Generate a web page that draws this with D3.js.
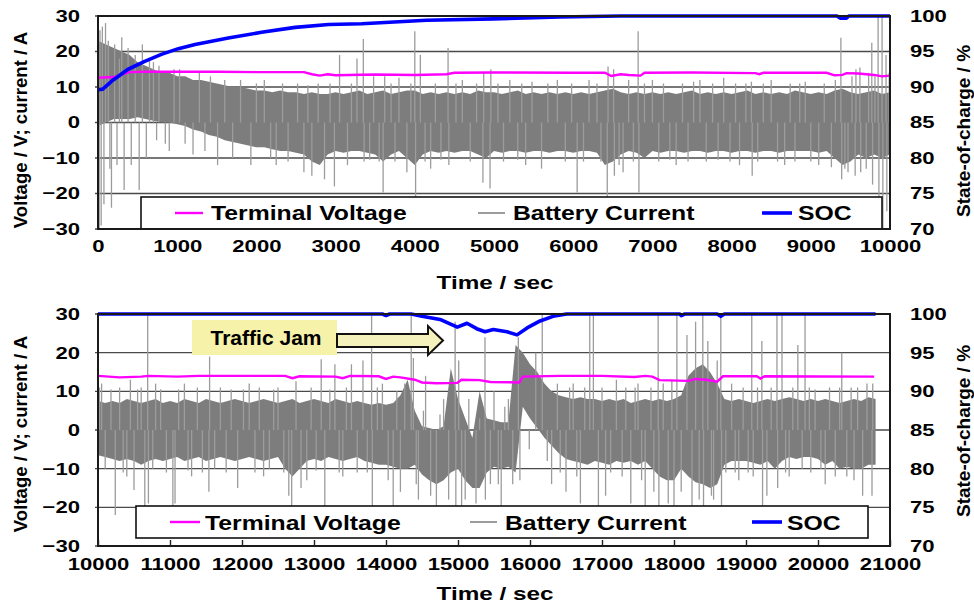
<!DOCTYPE html>
<html>
<head>
<meta charset="utf-8">
<script src="https://cdn.jsdelivr.net/npm/d3@7"></script>
<style>
  body { margin: 0; background: #fff; }
  svg { display: block; font-family: "Liberation Sans", Arial, sans-serif; font-weight: bold; }
</style>
</head>
<body>
<svg id="chart" width="974" height="607"></svg>
<script>
// ---- data ----
const Y_TICKS = [-30, -20, -10, 0, 10, 20, 30];
const SOC_TICKS = [70, 75, 80, 85, 90, 95, 100];
const TOP_X_TICKS = [0, 1000, 2000, 3000, 4000, 5000, 6000, 7000, 8000, 9000, 10000];
const BOT_X_TICKS = [10000, 11000, 12000, 13000, 14000, 15000, 16000, 17000, 18000, 19000, 20000, 21000];
const LEGEND_LABELS = ["Terminal Voltage", "Battery Current", "SOC"];
const BIN = 100; // seconds per envelope bin

// battery current, dense band: upper / lower envelope per 100 s bin (top panel 0..10000 s)
const TOP_HI = [
  23,22,21,20,19,17,16,15,14,14,
  13,13,12,12,11.5,11,10.5,10,10,9.5,
  9,9,8.5,9,8.5,8.5,8,8.5,8,8,
  8.5,8,8.5,9,8,8.5,9,8,8.5,9,
  9,8,8.5,8,8.5,8,8.5,8,9,8.5,
  8.5,8,8.5,9,8,8.5,8,8.5,8,8.5,
  8,8.5,8,8.5,9,9.5,8.5,8,8.5,8,
  8.5,8,8.5,8,8.5,9,8,8.5,8,8.5,
  8,8.5,9,8,8.5,8,8.5,8,9,8.5,
  8,8.5,8,9,9.5,8.5,8,8.5,9,8,8.5];
const TOP_LO = [
  -1,0,1,1,1,1.5,1,0.5,0,0,
  -0.5,-1,-2,-2.5,-3.5,-4,-5,-5.5,-6,-6.5,
  -7,-7,-7.5,-8,-8,-8.5,-9,-11,-12,-9,
  -8,-8.5,-8,-8,-8.5,-9,-11,-9,-8,-10,
  -12,-9,-8,-8.5,-8,-8.5,-8,-8,-9,-10,
  -8,-8.5,-8,-8,-8.5,-8,-8,-8.5,-8,-8,
  -8.5,-8,-8,-8.5,-12,-11,-9,-8,-8.5,-10,
  -8,-8.5,-8,-8,-8.5,-8,-8,-8.5,-8,-8,
  -8.5,-8,-8,-8.5,-8,-8,-8.5,-8,-8,-8,
  -8,-8.5,-8,-10,-12,-11,-9,-10,-9,-10,-9];
// isolated current spikes [time s, current A]
const TOP_SPIKES = [
  [15,-30],[25,26],[40,-29],[55,27],[75,-23],[95,28],[130,23],[150,-13],[170,-24],[210,22],[240,-12],[270,18],
  [300,24],[330,-19],[380,21],[420,-12],[470,19],[520,-19],[560,22],[610,-10],[650,18],[700,17],[740,-5],[770,16],
  [850,-6],[900,-8],[960,15],[1030,15],[1100,-6],[1200,-9],[1280,14],[1350,-8],[1420,13],[1510,-12],[1600,12],
  [1700,-10],[1800,12],[1930,-12],[2000,11],[2100,12],[2180,-10],[2250,-12],[2330,11],[2400,-11],[2520,11],
  [2600,-14],[2650,10.5],[2700,-15],[2780,11],[2860,-16],[2930,11],[2985,-18],[3050,19],[3150,-12],[3200,11],
  [3270,18],[3350,23.5],[3360,-11],[3430,-10.5],[3480,13],[3550,-11],[3600,-19.7],[3620,13],[3700,11],[3750,-11],
  [3800,12.6],[3900,-14],[3950,11],[4000,25.7],[4010,-21],[4070,19],[4130,-11],[4200,-13],[4260,11],[4330,-10.5],
  [4420,21],[4430,-12],[4520,11],[4600,12],[4700,-11],[4780,11],[4860,-17],[4870,14],[4950,-18.6],[4960,15],
  [5050,11],[5120,-11],[5200,12],[5300,-10.5],[5350,11],[5400,-12],[5480,11.5],[5600,-13],[5680,11],[5800,12],
  [5900,-11],[5980,11],[6050,-19.7],[6130,-11],[6200,12],[6300,11],[6350,-11],[6430,-21],[6440,15.8],[6510,15],
  [6520,-15],[6580,-12],[6630,-14],[6700,12],[6760,-11],[6820,25.7],[6830,-19.7],[6900,11],[7000,12],[7080,-11],
  [7140,11],[7220,-10.5],[7300,-12],[7380,11],[7450,-11],[7520,11.5],[7600,12],[7680,-11],[7760,11],[7830,-10.5],
  [7900,12.6],[7980,-11],[8050,11],[8100,-12],[8180,11],[8250,11.5],[8260,-15],[8330,-11],[8400,11],[8500,12],
  [8580,-11],[8670,-12],[8740,11],[8800,-11],[8860,11],[8930,11.5],[9000,-11],[9100,-12],[9170,11],[9260,-12.6],
  [9310,12],[9380,23.9],[9390,-16],[9430,-13],[9470,-14],[9520,13],[9560,-15],[9570,15],[9620,15.5],[9630,-14],
  [9700,-13],[9730,14],[9770,22.5],[9780,-17.5],[9810,13],[9850,30],[9860,-21],[9900,30],[9910,-30],[9950,19],
  [9960,-25],[9990,14]];
// terminal voltage [time s, V]
const TOP_VOLT = [
  [0,12.6],[200,12.8],[400,14.2],[600,14.3],[1500,14.3],[2000,14.2],[2600,14.2],[2700,13.6],[2800,13.2],
  [2900,13.6],[3000,13.3],[3500,13.5],[4000,13.4],[4400,13.6],[4500,14.0],[5000,14.1],[6000,14.0],[6400,14.0],
  [6480,13.1],[6600,13.6],[6700,13.4],[6850,13.2],[6900,14.0],[7500,14.1],[8300,13.9],[8350,13.6],[8400,14.0],
  [9200,14.0],[9300,13.3],[9400,13.4],[9450,13.9],[9600,13.8],[9800,13.4],[9900,13.0],[10000,13.2]];
// state of charge [time s, %]
const TOP_SOC = [
  [0,89.6],[60,89.7],[170,90.8],[380,92.5],[590,93.6],[800,94.6],[1015,95.4],[1225,96.0],[1645,96.9],
  [2065,97.7],[2490,98.4],[2910,98.8],[3330,98.9],[4150,99.4],[4990,99.6],[5830,99.85],[6600,100],
  [9330,100],[9370,99.7],[9450,99.7],[9480,100],[10000,100]];

// bottom panel, 10000..20800 s
const BOT_HI = [
  7.5,7,7.5,7,8,7.5,7,7.5,8,7,
  7.5,7,8,7.5,7,8,7.5,7,7.5,8,
  7.5,7,7.5,8,7.5,7,7.5,8,7,7.5,
  8,7.5,7,8,7.5,7,7.5,7,6.5,7,
  6.5,7,9,13,5,1,0.5,0,1,16,
  8,3,-2,10,3,2.5,2,2,22,20,
  17,15,12,10,9,8.5,8,8.5,8,8,
  7.5,8,7.5,8,7,7.5,8,7.5,8,7.5,
  8,9,14,16,17,15,12,8,7.5,8,
  7.5,7,7.5,8,7.5,8,8.5,8,7.5,8,
  7.5,8,7.5,7,7.5,8,7.5,8.5,8];
const BOT_LO = [
  -6.5,-7,-7.5,-8,-7.5,-8,-9,-8,-7.5,-8,
  -7.5,-7,-8,-7.5,-7,-8,-7.5,-7,-7.5,-8,
  -7.5,-7,-7.5,-8,-7.5,-7,-10,-12,-10,-8,
  -7.5,-8,-7,-7.5,-8,-7.5,-7,-8,-8.5,-9,
  -9,-9.5,-10,-10,-9,-11.5,-13,-14,-13,-11,
  -10,-13,-15,-15,-11,-9.5,-10,-9.5,-11,6,
  3,0.5,-2,-4,-6,-7.5,-8,-8.5,-9,-8,
  -8.5,-9,-8,-8.5,-8,-9,-8,-10,-12,-13,
  -13,-10,-12,-13.5,-14,-15,-14,-9,-8,-8,
  -8,-8.5,-9,-8,-10,-8,-7,-7.5,-7,-7,
  -7.5,-9,-8,-10,-9.5,-10,-10,-9,-9];
const BOT_SPIKES = [
  [10020,11],[10050,12],[10100,-10],[10180,10.5],[10240,-22],[10300,11],[10350,-11],[10400,-12],[10450,13],
  [10500,-15.5],[10550,10.5],[10600,11],[10650,-20],[10690,30],[10700,-19],[10760,-10],[10800,12],[10870,10.5],
  [10950,-11],[11040,-19.8],[11070,-19],[11120,10.5],[11200,12],[11250,-10.5],[11300,-12],[11380,11],[11450,-11],
  [11540,-16],[11550,19],[11620,-10],[11700,11],[11780,-11],[11850,10.5],[11940,-15],[12020,10.5],[12100,12],
  [12180,-11],[12240,11],[12300,-12],[12380,-10],[12440,10.5],[12500,11],[12580,-11],[12650,-17],[12690,-20],
  [12750,12.6],[12820,-15],[12900,-13],[12960,11],[13030,-10.5],[13100,18.3],[13150,-20],[13220,10.5],[13290,17],
  [13350,-11],[13400,-12],[13450,11],[13520,17],[13600,-11],[13680,18],[13740,-11],[13800,30],[13810,-20],
  [13880,11],[13950,12],[14030,-13],[14100,-20],[14150,10],[14200,-16],[14260,12],[14350,30],[14380,18.6],
  [14420,-14],[14450,-18],[14520,5],[14550,14],[14620,-17],[14700,-20],[14750,4],[14800,8],[14870,-18],
  [14960,28],[14970,-20],[15010,18],[15050,-20],[15100,-18],[15150,8],[15250,-19],[15300,3],[15375,24],
  [15380,-18],[15450,-14],[15500,10],[15560,-14],[15600,-20],[15650,6],[15700,8],[15760,-14],[15838,24],
  [15860,-13],[15990,-5],[16080,20],[16170,30],[16240,-8],[16300,-14],[16380,12],[16420,-11],[16500,-16],
  [16550,11],[16600,12],[16650,-12],[16700,-19],[16760,11],[16830,30],[16880,30],[16950,-20],[17000,11],
  [17050,-17],[17120,-11],[17200,13],[17280,-12],[17330,11],[17400,-19],[17460,11],[17500,12],[17550,-13],
  [17600,-20],[17680,11],[17720,-16],[17780,30],[17790,-19.6],[17850,12],[17920,-19],[17970,13],[18000,-19.6],
  [18040,30],[18100,-16],[18180,24.6],[18250,-20],[18300,28],[18350,-18],[18400,30],[18410,-20],[18470,23],
  [18520,-17],[18550,-18],[18600,18],[18650,30],[18660,-20],[18720,-11],[18800,12],[18850,-11],[18900,-13],
  [18960,11],[19030,-11],[19080,30],[19100,-12],[19160,11],[19220,23],[19230,-19.6],[19290,-17],[19350,11],
  [19430,30],[19440,-15],[19500,30],[19550,-11],[19600,-12],[19650,11],[19720,22],[19780,-10],[19820,30],
  [19880,11],[19900,-11],[19960,10.5],[20040,-10],[20100,-14],[20160,11],[20240,-12],[20300,11],[20330,20],
  [20400,-12],[20460,11],[20500,-13],[20550,11],[20620,-17],[20680,12],[20750,-17],[20760,12]];
const BOT_VOLT = [
  [10000,14.0],[10300,13.6],[10600,13.8],[10700,14.0],[11100,13.8],[11400,14.0],[12600,14.0],[12700,13.4],
  [12800,13.9],[13300,13.8],[13400,13.4],[13500,14.0],[13900,13.9],[14000,13.2],[14100,13.8],[14200,13.6],
  [14400,13.0],[14500,12.3],[14700,12.1],[14990,12.2],[15050,13.0],[15300,12.9],[15450,12.4],[15850,12.3],
  [15900,13.8],[16400,14.0],[17000,14.0],[17450,13.7],[17600,14.0],[17700,13.8],[17800,12.9],[18200,12.7],
  [18300,13.2],[18450,13.0],[18600,12.5],[18680,13.9],[19150,13.9],[19200,13.3],[19260,13.9],[20780,13.8]];
const BOT_SOC = [
  [10000,100],[13950,100],[14000,99.8],[14050,100],[14350,100],[14500,99.7],[14750,99.3],[14990,98.3],
  [15125,98.8],[15260,98.1],[15375,97.7],[15490,98.0],[15680,97.7],[15820,97.3],[15960,98.2],[16140,99.1],
  [16320,99.7],[16510,100],[18080,100],[18100,99.8],[18150,100],[18600,100],[18650,99.7],[18700,100],[20800,100]];

// ---- drawing ----
const svg = d3.select("#chart");
const PLOT_LEFT = 98, PLOT_RIGHT = 890;

function stretchText(parent, x, y, str, size, sx, anchor) {
  return parent.append("text")
    .attr("transform", `translate(${x},${y}) scale(${sx},1)`)
    .attr("text-anchor", anchor || "start")
    .style("font-size", size + "px")
    .attr("fill", "#000")
    .text(str);
}

function drawPanel(cfg) {
  const x = d3.scaleLinear().domain(cfg.xDomain).range([PLOT_LEFT, PLOT_RIGHT]);
  const y = d3.scaleLinear().domain([-30, 30]).range([cfg.bottom, cfg.top]);
  const ySoc = d3.scaleLinear().domain([70, 100]).range([cfg.bottom, cfg.top]);
  const g = svg.append("g");

  const clipId = "clip-" + cfg.id;
  svg.append("clipPath").attr("id", clipId).append("rect")
    .attr("x", PLOT_LEFT).attr("y", cfg.top - 2)
    .attr("width", PLOT_RIGHT - PLOT_LEFT).attr("height", cfg.bottom - cfg.top + 2);

  //Horizontal gridlines
  g.append("g").selectAll("line").data(Y_TICKS).join("line")
    .attr("x1", PLOT_LEFT - 3).attr("x2", PLOT_RIGHT)
    .attr("y1", d => y(d)).attr("y2", d => y(d))
    .attr("stroke", "#4a4a4a").attr("stroke-width", 1.4);

  const data = g.append("g").attr("clip-path", `url(#${clipId})`);

  //Current: dense band + spikes
  const band = cfg.hi.map((h, i) => ({ t: cfg.xDomain[0] + i * BIN, hi: h, lo: cfg.lo[i] }));
  data.append("path").datum(band)
    .attr("fill", "#7d7d7d")
    .attr("d", d3.area().x(d => x(d.t)).y0(d => y(d.lo)).y1(d => y(d.hi)));
  data.append("g").selectAll("line").data(cfg.spikes).join("line")
    .attr("x1", d => x(d[0])).attr("x2", d => x(d[0]))
    .attr("y1", y(0)).attr("y2", d => y(d[1]))
    .attr("stroke", "#9c9c9c").attr("stroke-width", 1.3);

  //Terminal voltage
  data.append("path").datum(cfg.volt)
    .attr("fill", "none").attr("stroke", "#ff00ff").attr("stroke-width", 2.4)
    .attr("d", d3.line().x(d => x(d[0])).y(d => y(d[1])));

  //SOC on the right scale
  data.append("path").datum(cfg.soc)
    .attr("fill", "none").attr("stroke", "#0000ff").attr("stroke-width", 3.6)
    .attr("stroke-linejoin", "round")
    .attr("d", d3.line().x(d => x(d[0])).y(d => ySoc(d[1])));

  //Legend box
  const lg = cfg.legend;
  g.append("rect")
    .attr("x", lg.x).attr("y", lg.y).attr("width", lg.w).attr("height", lg.h)
    .attr("fill", "#fff").attr("stroke", "#111").attr("stroke-width", 1.6);
  const colors = ["#ff00ff", "#9c9c9c", "#0000ff"];
  const widths = [2.4, 2, 3.6];
  LEGEND_LABELS.forEach((label, i) => {
    const it = lg.items[i];
    g.append("line")
      .attr("x1", it.x1).attr("x2", it.x2).attr("y1", lg.lineY).attr("y2", lg.lineY)
      .attr("stroke", colors[i]).attr("stroke-width", widths[i]);
    stretchText(g, it.tx, lg.textY, label, 19.5, 1.27);
  });

  //Plot border
  g.append("rect")
    .attr("x", PLOT_LEFT).attr("y", cfg.top)
    .attr("width", PLOT_RIGHT - PLOT_LEFT).attr("height", cfg.bottom - cfg.top)
    .attr("fill", "none").attr("stroke", "#1a1a1a").attr("stroke-width", 2);

  //Axes
  const styleAxis = (sel, sx) => {
    sel.attr("font-family", null).attr("font-size", null);
    sel.select(".domain").remove();
    sel.selectAll("text")
      .attr("fill", "#000")
      .style("font-size", "17px")
      .attr("transform", `scale(${sx},1)`);
    sel.selectAll(".tick line").attr("stroke", "#222").attr("stroke-width", 1.4);
  };

  const xAxis = d3.axisBottom(x).tickValues(cfg.xTicks).tickFormat(d3.format("d"))
    .tickSize(cfg.xTickSize).tickPadding(cfg.xPad);
  g.append("g").attr("transform", `translate(0,${cfg.bottom})`)
    .call(xAxis).call(s => styleAxis(s, 1.3));

  g.append("g").attr("transform", `translate(${PLOT_LEFT},0)`)
    .call(d3.axisLeft(y).tickValues(Y_TICKS).tickSize(0).tickPadding(13.8))
    .call(s => styleAxis(s, 1.3));

  g.append("g").attr("transform", `translate(${PLOT_RIGHT},0)`)
    .call(d3.axisRight(ySoc).tickValues(SOC_TICKS).tickSize(0).tickPadding(15.4))
    .call(s => styleAxis(s, 1.3));

  //Axis titles
  stretchText(g, 495, cfg.xTitleY, "Time / sec", 18, 1.35, "middle");
  g.append("text")
    .attr("transform", `translate(20,${cfg.leftTitleY}) rotate(-90)`)
    .attr("text-anchor", "middle").attr("dy", "0.35em")
    .style("font-size", "18.6px")
    .text("Voltage / V; current / A");
  g.append("text")
    .attr("transform", `translate(963,${cfg.rightTitleY}) rotate(-90)`)
    .attr("text-anchor", "middle").attr("dy", "0.35em")
    .style("font-size", "19px")
    .text("State-of-charge / %");

  return g;
}

drawPanel({
  id: "top", xDomain: [0, 10000], top: 16, bottom: 229,
  hi: TOP_HI, lo: TOP_LO, spikes: TOP_SPIKES, volt: TOP_VOLT, soc: TOP_SOC,
  xTicks: TOP_X_TICKS, xTickSize: 0, xPad: 11, xTitleY: 289, leftTitleY: 130, rightTitleY: 131,
  legend: {
    x: 141, y: 197, w: 741, h: 32, lineY: 213, textY: 219.5,
    items: [{ x1: 175, x2: 203, tx: 211 }, { x1: 478, x2: 505, tx: 513 }, { x1: 762, x2: 792, tx: 798 }]
  }
});

const bottomPanel = drawPanel({
  id: "bot", xDomain: [10000, 21000], top: 314, bottom: 546,
  hi: BOT_HI, lo: BOT_LO, spikes: BOT_SPIKES, volt: BOT_VOLT, soc: BOT_SOC,
  xTicks: BOT_X_TICKS, xTickSize: -6, xPad: 12, xTitleY: 600, leftTitleY: 434, rightTitleY: 431,
  legend: {
    x: 136, y: 506, w: 732, h: 32, lineY: 522, textY: 530,
    items: [{ x1: 170, x2: 200, tx: 205 }, { x1: 470, x2: 497, tx: 505 }, { x1: 752, x2: 782, tx: 787 }]
  }
});

//Traffic jam annotation
bottomPanel.append("rect")
  .attr("x", 192).attr("y", 320).attr("width", 145).attr("height", 35)
  .attr("fill", "#f6f2aa");
stretchText(bottomPanel, 266, 345, "Traffic Jam", 19.5, 1.08, "middle");
bottomPanel.append("path")
  .attr("d", "M337,334 L428,334 L428,326 L443,340.5 L428,355 L428,347 L337,347 Z")
  .attr("fill", "#f4f1bc").attr("stroke", "#111").attr("stroke-width", 2)
  .attr("stroke-linejoin", "miter");
</script>
</body>
</html>
